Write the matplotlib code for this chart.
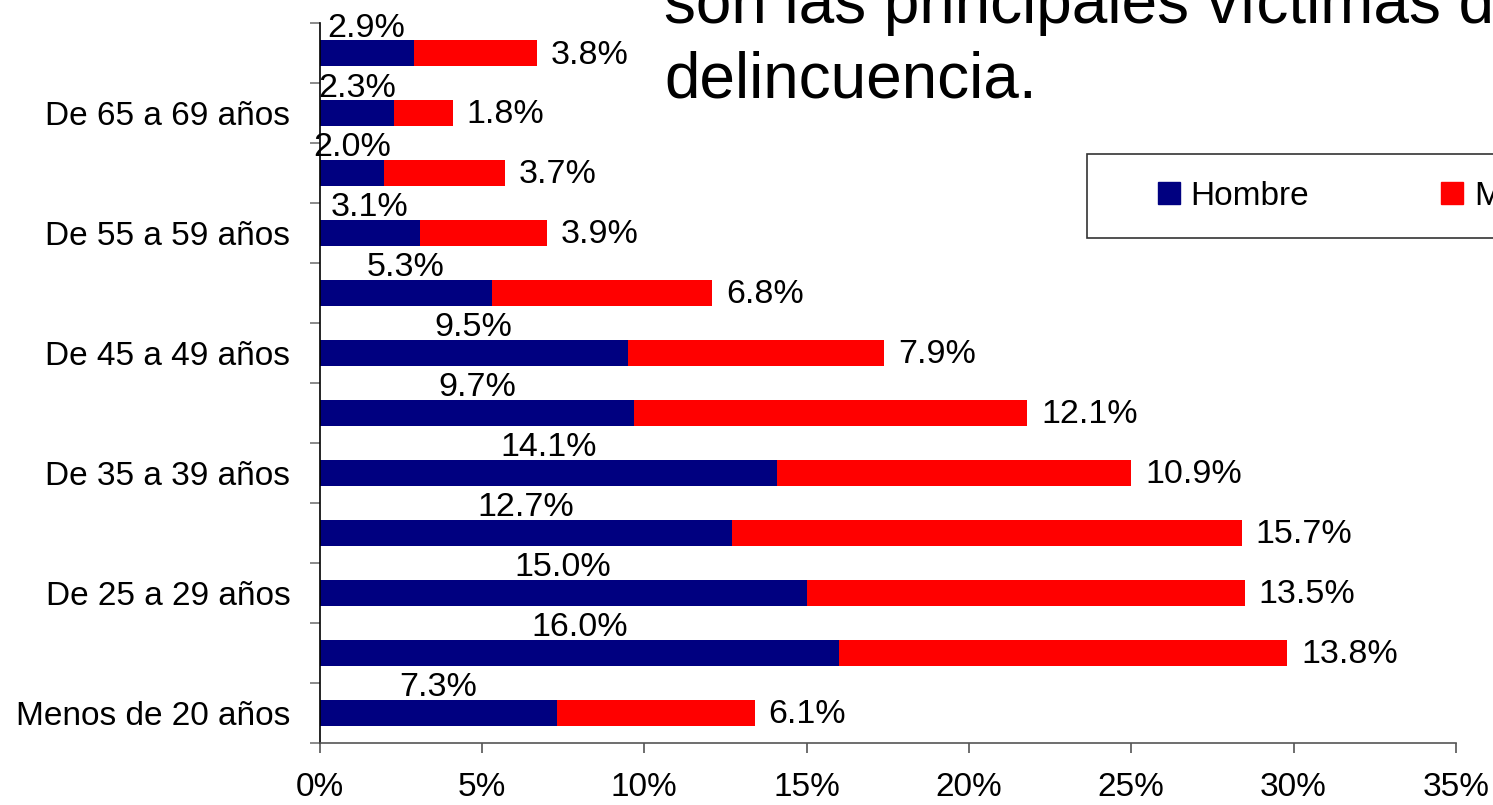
import matplotlib
matplotlib.use("Agg")
import matplotlib.pyplot as plt
from matplotlib.lines import Line2D

plt.rcParams['font.family'] = ['Liberation Sans', 'DejaVu Sans']

# grupos de edad, de abajo hacia arriba
categorias = ["Menos de 20 años", "De 20 a 24 años", "De 25 a 29 años", "De 30 a 34 años",
              "De 35 a 39 años", "De 40 a 44 años", "De 45 a 49 años", "De 50 a 54 años",
              "De 55 a 59 años", "De 60 a 64 años", "De 65 a 69 años", "70 años y más"]
hombre = [7.3, 16.0, 15.0, 12.7, 14.1, 9.7, 9.5, 5.3, 3.1, 2.0, 2.3, 2.9]
mujer = [6.1, 13.8, 13.5, 15.7, 10.9, 12.1, 7.9, 6.8, 3.9, 3.7, 1.8, 3.8]
xticks = [0, 5, 10, 15, 20, 25, 30, 35]
titulo = ["son las principales víctimas de la", "delincuencia."]

azul = '#000080'
rojo = '#FF0000'

fig = plt.figure(figsize=(14.93, 8.05), dpi=100)
ax = fig.add_axes([0.214, 0.0774, 0.7612, 0.8944])

y = list(range(len(categorias)))
ax.barh(y, hombre, height=0.43, color=azul, label='Hombre')
ax.barh(y, mujer, left=hombre, height=0.43, color=rojo, label='Mujer')

# etiquetas de valor
for i in y:
    ax.text(hombre[i] / 2, i + 0.27, "%.1f%%" % hombre[i], ha='center', va='baseline', fontsize=24.5)
    ax.annotate("%.1f%%" % mujer[i], (hombre[i] + mujer[i], i - 0.18), xytext=(10, 0),
                textcoords='offset points', ha='left', va='baseline', fontsize=24.5)

ax.set_xlim(0, 35)
ax.set_ylim(-0.5, len(categorias) - 0.5)
ax.set_xticks(xticks)
ax.set_xticklabels(["%d%%" % t for t in xticks])
ax.tick_params(axis='x', length=7, width=1.2, color='#555555', pad=14, labelsize=24)

# marcas en los limites de cada grupo, etiquetas solo en uno de cada dos
ax.set_yticks([i - 0.5 for i in range(len(categorias) + 1)])
ax.set_yticklabels([])
ax.tick_params(axis='y', which='major', length=7, width=1.2, color='#777777')
ax.set_yticks(y, minor=True)
ax.set_yticklabels([c if i % 2 == 0 else "" for i, c in enumerate(categorias)], minor=True)
ax.tick_params(axis='y', which='minor', length=0, pad=21, labelsize=24)

for s in ['top', 'right']:
    ax.spines[s].set_visible(False)
ax.spines['left'].set_color('black')
ax.spines['left'].set_linewidth(1.2)
ax.spines['bottom'].set_color('#555555')
ax.spines['bottom'].set_linewidth(1.2)

# titulo cortado arriba
fig.text(664 / 1493, 1 - 23 / 805, titulo[0], fontsize=46, va='baseline', ha='left')
fig.text(664 / 1493, 1 - 97 / 805, titulo[1], fontsize=46, va='baseline', ha='left')

handles = [Line2D([], [], marker='s', linestyle='none', markersize=16.5, color=azul),
           Line2D([], [], marker='s', linestyle='none', markersize=16.5, color=rojo)]
leg = fig.legend(handles, ['Hombre', 'Mujer'], loc='upper left',
                 bbox_to_anchor=(1087 / 1493, 1 - 154 / 805), ncol=2, fontsize=24,
                 frameon=True, fancybox=False, edgecolor='black', borderpad=0.8,
                 handlelength=3.3, handletextpad=-1.0, columnspacing=2.65,
                 borderaxespad=0)
leg.get_frame().set_linewidth(1.2)

fig.savefig('out.png', dpi=100)
